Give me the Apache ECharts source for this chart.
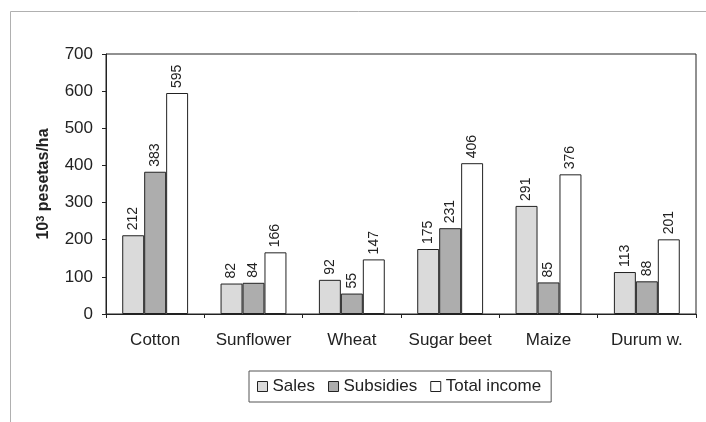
<!DOCTYPE html>
<html>
<head>
<meta charset="utf-8">
<script src="https://cdn.jsdelivr.net/npm/echarts@6/dist/echarts.min.js"></script>
<style>html,body{margin:0;padding:0;background:#fff}#c{width:706px;height:422px}</style>
</head>
<body>
<div id="c"></div>
<script>
const categories = ['Cotton', 'Sunflower', 'Wheat', 'Sugar beet', 'Maize', 'Durum w.'];
const sales = [212, 82, 92, 175, 291, 113];
const subsidies = [383, 84, 55, 231, 85, 88];
const totalIncome = [595, 166, 147, 406, 376, 201];
const yTicks = [0, 100, 200, 300, 400, 500, 600, 700];

const font = '"Liberation Sans", Arial, sans-serif';
const chart = echarts.init(document.getElementById('c'), null, {renderer: 'canvas'});

function barSeries(name, data, color) {
  return {
    name: name, type: 'bar', data: data,
    barGap: '0%', barCategoryGap: '33%',
    itemStyle: {color: color, borderColor: '#222', borderWidth: 1},
    label: {
      show: true, position: 'top', rotate: 90, align: 'left', verticalAlign: 'middle',
      distance: 5, fontFamily: font, fontSize: 14, color: '#222'
    }
  };
}

chart.setOption({
  animation: false,
  backgroundColor: '#fff',
  graphic: [{
    type: 'rect', shape: {x: 10.5, y: 11.5, width: 720, height: 440},
    style: {fill: 'none', stroke: '#b0b0b0', lineWidth: 1}, silent: true
  }],
  grid: {left: 106, top: 54, right: 10, bottom: 108, show: true, borderColor: '#222', borderWidth: 1, backgroundColor: 'transparent'},
  legend: {
    data: ['Sales', 'Subsidies', 'Total income'],
    left: 249, top: 371,
    orient: 'horizontal',
    borderColor: '#555', borderWidth: 1, borderRadius: 0,
    padding: [7, 10, 7, 8],
    itemWidth: 10, itemHeight: 10, itemGap: 13,
    icon: 'rect',
    itemStyle: {borderColor: '#222', borderWidth: 1},
    textStyle: {fontFamily: font, fontSize: 17, color: '#222'}
  },
  xAxis: {
    type: 'category', data: categories,
    axisLine: {lineStyle: {color: '#222', width: 1}},
    axisTick: {show: true, length: 4, interval: 0, lineStyle: {color: '#222'}},
    axisLabel: {fontFamily: font, fontSize: 17, color: '#222', margin: 18, interval: 0, hideOverlap: false}
  },
  yAxis: {
    type: 'value', min: 0, max: 700, interval: 100,
    splitLine: {show: false},
    axisLine: {show: true, lineStyle: {color: '#222', width: 1}},
    axisTick: {show: true, length: 4, lineStyle: {color: '#222'}},
    axisLabel: {fontFamily: font, fontSize: 17, color: '#222', margin: 13,
      formatter: function (v) { return yTicks.indexOf(v) >= 0 ? String(v) : ''; }},
    name: '{n|10}{s|3}{n| pesetas/ha}',
    nameLocation: 'middle', nameGap: 54, nameRotate: 90,
    nameTextStyle: {
      rich: {
        n: {fontFamily: font, fontSize: 16, fontWeight: 'bold', color: '#222'},
        s: {fontFamily: font, fontSize: 11, fontWeight: 'bold', color: '#222', verticalAlign: 'top', padding: [0, 0, 6, 0]}
      }
    }
  },
  series: [
    barSeries('Sales', sales, '#dadada'),
    barSeries('Subsidies', subsidies, '#adadad'),
    barSeries('Total income', totalIncome, '#ffffff')
  ]
});
</script>
</body>
</html>
